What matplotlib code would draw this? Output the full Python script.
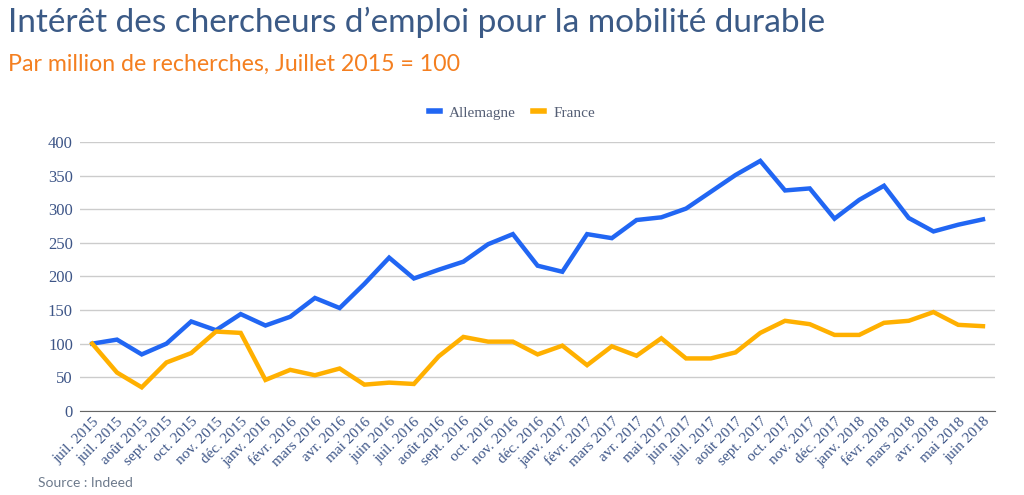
import matplotlib
matplotlib.use('Agg')
import matplotlib.pyplot as plt
from matplotlib.lines import Line2D

# mois (le premier libellé est répété dans l'original)
mois = ['juil. 2015', 'juil. 2015', 'août 2015', 'sept. 2015', 'oct. 2015', 'nov. 2015', 'déc. 2015',
        'janv. 2016', 'févr. 2016', 'mars 2016', 'avr. 2016', 'mai 2016', 'juin 2016', 'juil. 2016',
        'août 2016', 'sept. 2016', 'oct. 2016', 'nov. 2016', 'déc. 2016', 'janv. 2017', 'févr. 2017',
        'mars 2017', 'avr. 2017', 'mai 2017', 'juin 2017', 'juil. 2017', 'août 2017', 'sept. 2017',
        'oct. 2017', 'nov. 2017', 'déc. 2017', 'janv. 2018', 'févr. 2018', 'mars 2018', 'avr. 2018',
        'mai 2018', 'juin 2018']

allemagne = [100, 106, 84, 100, 133, 120, 144, 127, 140, 168, 153, 189, 228, 197, 210, 222,
             248, 263, 216, 207, 263, 257, 284, 288, 301, 326, 351, 372, 328, 331, 286, 314,
             335, 287, 267, 277, 285]
france = [100, 57, 35, 72, 86, 118, 116, 46, 61, 53, 63, 39, 42, 40, 81, 110, 103, 103, 84,
          97, 68, 96, 82, 108, 78, 78, 87, 116, 134, 129, 113, 113, 131, 134, 147, 128, 126]

bleu = '#2166f3'
orange = '#ffb000'
txt = '#3d5587'

fig = plt.figure(figsize=(10.24, 4.95), dpi=100)
ax = fig.add_axes([0.078, 0.17, 0.894, 0.543])

x = range(len(mois))
ax.plot(x, allemagne, color=bleu, lw=3.2, solid_joinstyle='miter', label='Allemagne')
ax.plot(x, france, color=orange, lw=3.2, solid_joinstyle='miter', label='France')

ax.set_xlim(-0.5, len(mois) - 0.5)
ax.set_ylim(0, 400)
ax.set_yticks(range(0, 401, 50))
ax.yaxis.grid(True, color='#cccccc', lw=1)
ax.set_axisbelow(True)
for s in ['top', 'right', 'left']:
    ax.spines[s].set_visible(False)
ax.spines['bottom'].set_color('#666666')
ax.tick_params(axis='both', length=0)
ax.tick_params(axis='y', pad=5)
ax.tick_params(axis='x', pad=3)
ax.set_xticks(list(x))
ax.set_xticklabels(mois, rotation=45, ha='right', rotation_mode='anchor',
                   fontsize=11, color=txt, family='Liberation Serif')
for lab in ax.get_yticklabels():
    lab.set_fontsize(12)
    lab.set_color(txt)
    lab.set_family('Liberation Serif')

handles = [Line2D([0], [0], color=bleu, lw=4), Line2D([0], [0], color=orange, lw=4)]
fig.legend(handles, ['Allemagne', 'France'], loc='center', bbox_to_anchor=(0.5, 0.772),
           ncol=2, frameon=False, handlelength=0.75, handletextpad=0.6, columnspacing=1.1,
           prop={'family': 'Liberation Serif', 'size': 11}, labelcolor='#555f75')

fig.text(0.008, 0.955, 'Intérêt des chercheurs d\u2019emploi pour la mobilité durable',
         fontsize=24, color='#3b5a86', family='Lato', va='center')
fig.text(0.008, 0.87, 'Par million de recherches, Juillet 2015 = 100',
         fontsize=16.7, color='#f47f20', family='Lato', va='center')
fig.text(0.037, 0.024, 'Source : Indeed', fontsize=10, color='#6d7a8c', family='Lato', va='center')

fig.savefig('out.png', dpi=100)
